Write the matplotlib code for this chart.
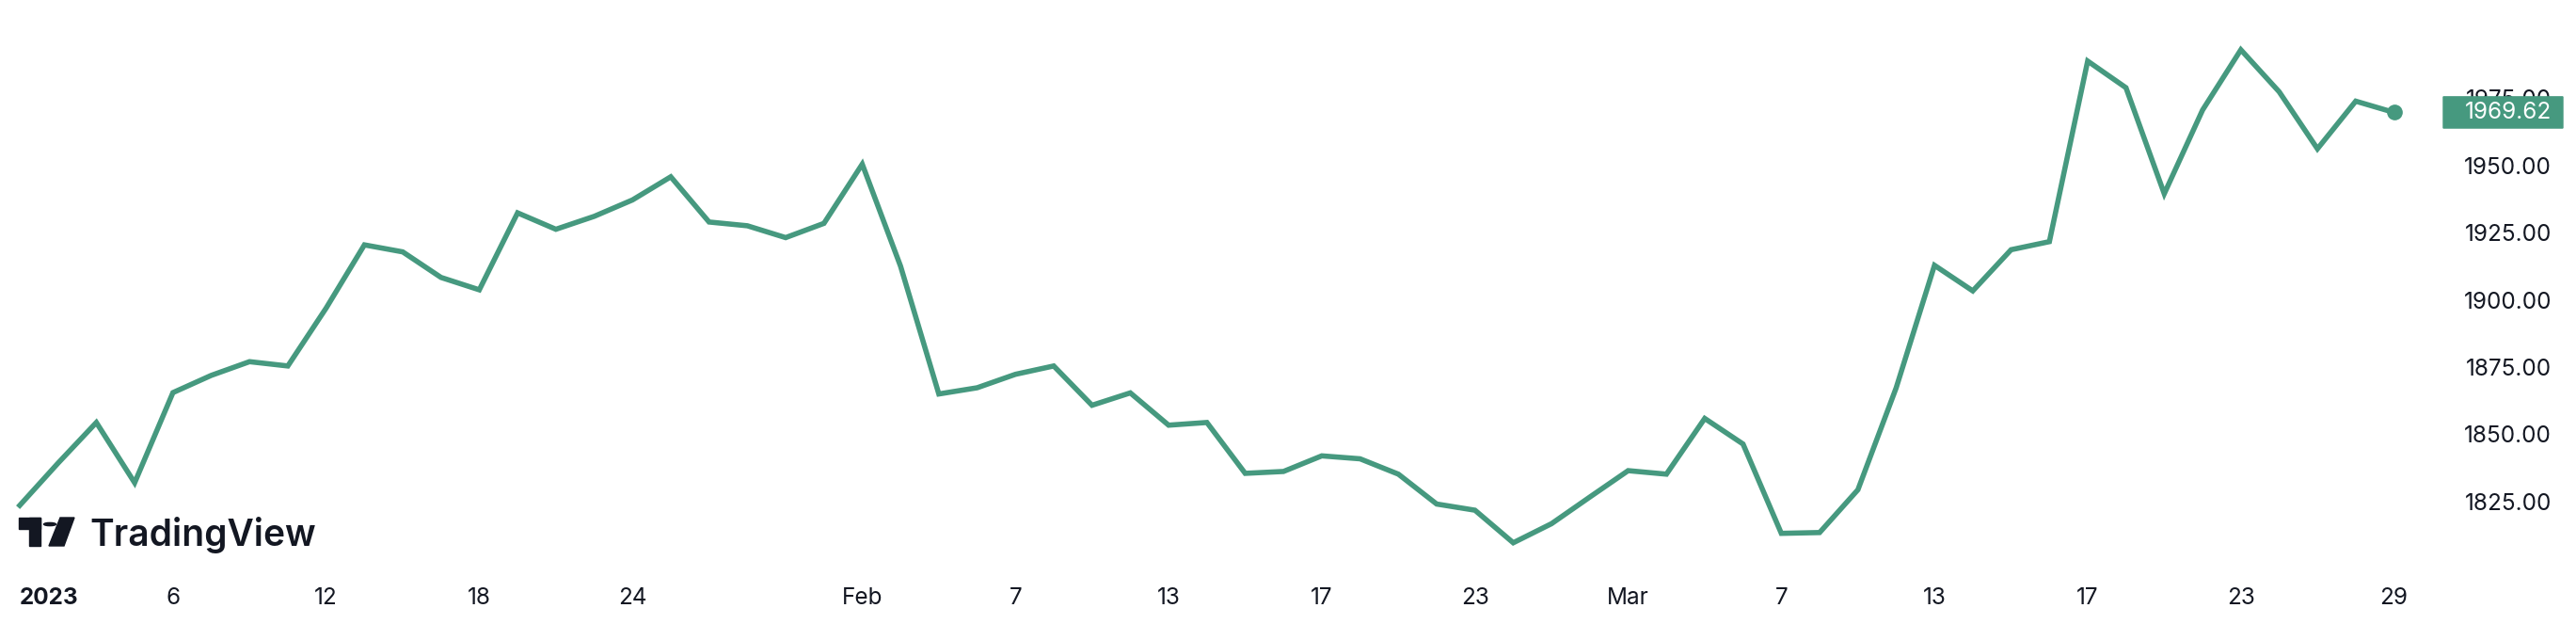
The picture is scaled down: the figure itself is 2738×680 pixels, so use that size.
import matplotlib.pyplot as plt
from matplotlib.patches import Rectangle, Circle, Polygon, FancyBboxPatch
from matplotlib.transforms import blended_transform_factory

# Gold price, daily bars, 2 Jan - 29 Mar 2023
dates = [
    "Jan 2", "Jan 3", "Jan 4", "Jan 5", "Jan 6",
    "Jan 9", "Jan 10", "Jan 11", "Jan 12", "Jan 13",
    "Jan 16", "Jan 17", "Jan 18", "Jan 19", "Jan 20",
    "Jan 23", "Jan 24", "Jan 25", "Jan 26", "Jan 27",
    "Jan 30", "Jan 31", "Feb 1", "Feb 2", "Feb 3",
    "Feb 6", "Feb 7", "Feb 8", "Feb 9", "Feb 10",
    "Feb 13", "Feb 14", "Feb 15", "Feb 16", "Feb 17",
    "Feb 20", "Feb 21", "Feb 22", "Feb 23", "Feb 24",
    "Feb 27", "Feb 28", "Mar 1", "Mar 2", "Mar 3",
    "Mar 6", "Mar 7", "Mar 8", "Mar 9", "Mar 10",
    "Mar 13", "Mar 14", "Mar 15", "Mar 16", "Mar 17",
    "Mar 20", "Mar 21", "Mar 22", "Mar 23", "Mar 24",
    "Mar 27", "Mar 28", "Mar 29",
]
prices = [
    1823.6, 1839.3, 1854.4, 1832.0, 1865.5,
    1871.9, 1877.0, 1875.4, 1896.9, 1920.4,
    1917.8, 1908.3, 1903.7, 1932.3, 1926.2,
    1931.0, 1937.1, 1945.7, 1928.9, 1927.5,
    1923.1, 1928.4, 1950.4, 1912.5, 1865.0,
    1867.3, 1872.3, 1875.4, 1860.8, 1865.4,
    1853.4, 1854.4, 1835.5, 1836.2, 1842.0,
    1840.9, 1835.2, 1824.1, 1821.8, 1809.7,
    1816.8, 1826.7, 1836.5, 1835.2, 1855.9,
    1846.4, 1813.2, 1813.5, 1829.4, 1867.3,
    1912.8, 1903.3, 1918.6, 1921.6, 1988.7,
    1978.8, 1939.4, 1970.5, 1992.9, 1977.3,
    1956.1, 1973.8, 1969.62,
]
last_price = 1969.62

x_tick_bars = [0, 4, 8, 12, 16, 22, 26, 30, 34, 38, 42, 46, 50, 54, 58, 62]
x_tick_labels = ["2023", "6", "12", "18", "24", "Feb", "7", "13", "17", "23",
                 "Mar", "7", "13", "17", "23", "29"]
y_ticks = [1825, 1850, 1875, 1900, 1925, 1950, 1975]

LINE = "#46997f"
TEXT = "#131722"

W, H = 2738, 680
plt.rcParams["font.family"] = ["Inter", "DejaVu Sans"]
fig = plt.figure(figsize=(W / 100, H / 100), dpi=100)
ax = fig.add_axes([0, 75 / H, 2580 / W, 605 / H])

bars = list(range(len(prices)))
ax.plot(bars, prices, color=LINE, lw=4.0, solid_joinstyle="miter")
ax.plot(bars[-1], prices[-1], "o", color=LINE, ms=11)

ax.set_xlim(-0.516, 62.87)
ax.set_ylim(1799.8, 2011.4)
for s in ax.spines.values():
    s.set_visible(False)

ax.set_xticks(x_tick_bars)
ax.set_xticklabels(x_tick_labels, fontsize=17.5, color=TEXT)
ax.tick_params(axis="x", length=0, pad=14)
first = ax.get_xticklabels()[0]
first.set_fontweight("bold")
first.set_horizontalalignment("left")

ax.yaxis.tick_right()
ax.set_yticks(y_ticks)
ax.set_yticklabels([f"{v:.2f}" for v in y_ticks], fontsize=17.5, color=TEXT)
ax.tick_params(axis="y", length=0, pad=95)
for lab in ax.get_yticklabels():
    lab.set_horizontalalignment("right")

# last price tag on the price scale
tr = blended_transform_factory(fig.transFigure, ax.transData)
ax.add_patch(FancyBboxPatch((2597 / W, last_price - 5.8), 127 / W, 11.6,
                            boxstyle="round,pad=0,rounding_size=0.001",
                            transform=tr, color=LINE, clip_on=False, zorder=5))
ax.text(2712 / W, last_price, f"{last_price:.2f}", transform=tr, ha="right",
        va="center", fontsize=17.5, color="white", zorder=6)

# TradingView logo
def px(x, y):
    return (x / W, 1 - y / H)

ft = fig.transFigure
fig.patches.append(Rectangle(px(20, 562), 23 / W, 12 / H, transform=ft, color=TEXT))
fig.patches.append(Rectangle(px(31, 580), 12 / W, 30 / H, transform=ft, color=TEXT))
fig.patches.append(Circle(px(53, 557), 6.5 / W, transform=ft, color=TEXT))
fig.patches.append(Polygon([px(64, 550), px(79, 550), px(68, 580), px(52, 580)],
                           closed=True, transform=ft, color=TEXT))
fig.text(95 / W, 1 - 580 / H, "TradingView", fontsize=28, fontweight="semibold",
         color=TEXT, ha="left", va="baseline")

fig.savefig("out.png", dpi=100)
